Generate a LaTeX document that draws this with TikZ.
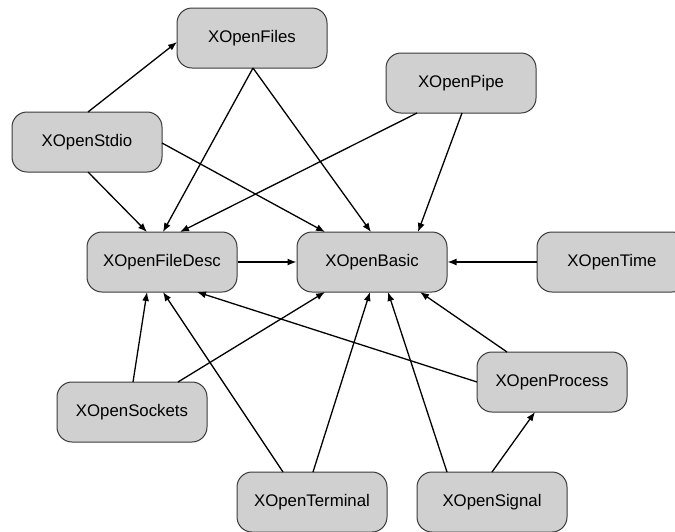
\documentclass[tikz,border=0pt]{standalone}
\usepackage{fontspec}
\setmainfont{Liberation Sans}
\usetikzlibrary{arrows.meta,calc}
\definecolor{boxfill}{HTML}{D0D0D0}
\definecolor{boxline}{HTML}{3A3A3A}
\tikzset{
  module/.style={draw=boxline, fill=boxfill, line width=1pt, rounded corners=15pt,
    minimum width=150pt, minimum height=60pt, inner sep=0pt,
    font=\fontsize{16.8}{20}\selectfont},
  dep/.style={line width=1.3pt, -{Latex[length=9pt,width=7pt]}}
}
\begin{document}
\begin{tikzpicture}[x=1pt,y=-1pt]
\useasboundingbox (0,0) rectangle (675,531);
\clip (0,0) rectangle (675,531);
% modules
\node[module] (files) at (252,38)  {XOpenFiles};
\node[module] (pipe)  at (461,83)  {XOpenPipe};
\node[module] (stdio) at (87,142)  {XOpenStdio};
\node[module] (fd)    at (162,262) {XOpenFileDesc};
\node[module] (basic) at (372,262) {XOpenBasic};
\node[module] (time)  at (612,262) {XOpenTime};
\node[module] (sock)  at (132,412) {XOpenSockets};
\node[module] (proc)  at (552,382) {XOpenProcess};
\node[module] (term)  at (312,502) {XOpenTerminal};
\node[module] (sig)   at (492,502) {XOpenSignal};
% dependencies
\draw[dep] ($(stdio.center)+(1,-30)$) -- ($(files.center)+(-75,4)$);
\draw[dep] ($(files.center)+(1,30)$) -- ($(fd.center)+(1,-30)$);
\draw[dep] ($(files.center)+(1,30)$) -- ($(basic.center)+(-1,-30)$);
\draw[dep] ($(stdio.center)+(1,30)$) -- ($(fd.center)+(-15,-30)$);
\draw[dep] ($(stdio.center)+(75,1)$) -- ($(basic.center)+(-47,-30)$);
\draw[dep] ($(pipe.center)+(-44,30)$) -- ($(fd.center)+(18,-30)$);
\draw[dep] ($(pipe.center)+(1,30)$) -- ($(basic.center)+(46,-30)$);
\draw[dep] (fd.east) -- (basic.west);
\draw[dep] (time.west) -- (basic.east);
\draw[dep] ($(sock.center)+(1,-30)$) -- ($(fd.center)+(-15,30)$);
\draw[dep] ($(sock.center)+(46,-30)$) -- ($(basic.center)+(-47,30)$);
\draw[dep] ($(term.center)+(-29,-30)$) -- ($(fd.center)+(1,30)$);
\draw[dep] ($(term.center)+(1,-30)$) -- ($(basic.center)+(-2,30)$);
\draw[dep] ($(proc.center)+(-75,0)$) -- ($(fd.center)+(35,30)$);
\draw[dep] ($(proc.center)+(-45,-30)$) -- ($(basic.center)+(48,30)$);
\draw[dep] ($(sig.center)+(-45,-30)$) -- ($(basic.center)+(16,30)$);
\draw[dep] ($(sig.center)+(0,-30)$) -- ($(proc.center)+(-17,30)$);
\end{tikzpicture}
\end{document}
